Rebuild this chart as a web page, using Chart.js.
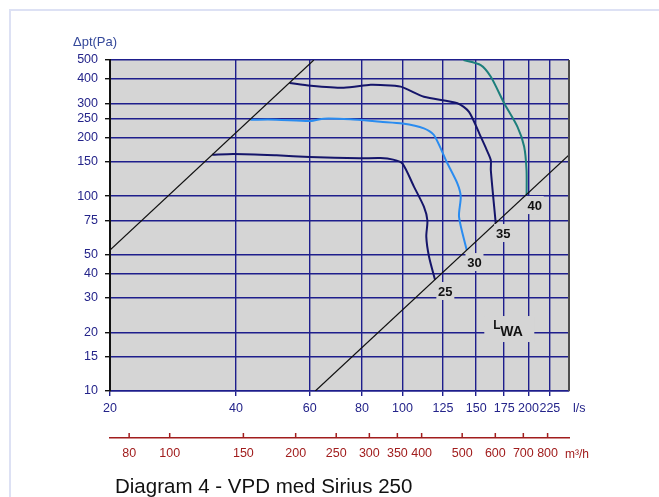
<!DOCTYPE html>
<html>
<head>
<meta charset="utf-8">
<script src="https://cdn.jsdelivr.net/npm/chart.js@4.4.0/dist/chart.umd.min.js"></script>
<style>
html, body { margin: 0; padding: 0; background: #fff; }
#wrap { position: relative; width: 659px; height: 497px; overflow: hidden; }
#frame { position: absolute; left: 9px; top: 9px; right: 0; bottom: 0; border-left: 2px solid #dde1f4; border-top: 2px solid #dde1f4; }
#vpdChart { position: absolute; left: 0; top: 0; }
</style>
</head>
<body>
<div id="wrap">
    <div id="frame"></div>
    <canvas id="vpdChart" width="659" height="497"></canvas>
</div>
<script>
// axis ticks
const flowTicks = [20, 40, 60, 80, 100, 125, 150, 175, 200, 225];
const flowTicksM3h = [80, 100, 150, 200, 250, 300, 350, 400, 500, 600, 700, 800];
const pressureTicks = [10, 15, 20, 30, 40, 50, 75, 100, 150, 200, 250, 300, 400, 500];

// fan curves, flow in l/s and total pressure in Pa
const curve25Flow = [35.1, 39.5, 50, 60, 79, 88.6, 95, 100, 106.5, 112.5, 114.7, 114, 115.7, 119.6];
const curve25Pa = [163, 164.6, 162, 159, 156.5, 157, 154, 147, 112, 88.3, 75, 62, 49, 37.2];

const curve30Flow = [43.3, 50, 60.3, 64.9, 75, 88.6, 100, 112.5, 118.9, 128, 135.3, 137.8, 136.5, 142.4];
const curve30Pa = [247, 247, 243, 250, 248, 241, 236, 223, 206, 147.5, 116, 99.4, 78.4, 52.9];

const curve35Flow = [53.7, 60.3, 72.4, 83.9, 88.6, 99, 112.5, 135.3, 144.2, 153.8, 159, 162.6, 162.6, 167];
const curve35Pa = [381, 369, 360, 373, 372, 365, 324, 300, 271, 202, 172.5, 153, 136, 73];

const curve40Flow = [139.9, 153.8, 162.6, 175, 188.3, 195.3, 197.9, 198];
const curve40Pa = [500, 471, 410, 300, 227, 180, 136, 101.5];

// system lines
const sysLowFlow = [20, 61.4];
const sysLowPa = [52.9, 500];
const sysHighFlow = [61.9, 250];
const sysHighPa = [10, 163];

// sound power labels
const lwaLabels = ['25', '30', '35', '40'];
const lwaLabelFlow = [126.6, 148.6, 174, 207];
const lwaLabelPa = [32.6, 45.9, 64.7, 90];

const fontFamily = '"Liberation Sans", Arial, sans-serif';
const plotBg = '#d5d5d5';
const gridNavy = '#1e1e8c';
const labelNavy = '#24248a';
const axisRed = '#a11d1d';

function toPoints(xs, ys) {
    return xs.map((v, i) => ({ x: v, y: ys[i] }));
}

const decorPlugin = {
    id: 'decor',
    beforeDraw(chart) {
        const { ctx, chartArea: a } = chart;
        ctx.save();
        ctx.fillStyle = plotBg;
        ctx.fillRect(a.left, a.top, a.right - a.left, a.bottom - a.top);
        ctx.restore();
    },
    afterDatasetsDraw(chart) {
        const { ctx, scales } = chart;
        const x = scales.x, y = scales.y;
        ctx.save();
        ctx.font = 'bold 13px ' + fontFamily;
        ctx.textAlign = 'center';
        ctx.textBaseline = 'middle';
        lwaLabels.forEach((t, i) => {
            const px = x.getPixelForValue(lwaLabelFlow[i]);
            const py = y.getPixelForValue(lwaLabelPa[i]);
            ctx.fillStyle = plotBg;
            ctx.fillRect(px - 9, py - 9, 18, 18);
            ctx.fillStyle = '#111';
            ctx.fillText(t, px, py + 1);
        });

        // L_WA box
        const bx = x.getPixelForValue(180), by = y.getPixelForValue(20.8);
        ctx.fillStyle = plotBg;
        ctx.fillRect(bx - 25, by - 13, 50, 26);
        ctx.fillStyle = '#111';
        ctx.textAlign = 'left';
        ctx.font = 'bold 12px ' + fontFamily;
        ctx.fillText('L', bx - 16, by - 3);
        ctx.font = 'bold 14px ' + fontFamily;
        ctx.fillText('WA', bx - 9, by + 3);
        ctx.restore();
    },
    afterDraw(chart) {
        const { ctx, chartArea: a, scales } = chart;
        ctx.save();
        // right edge
        ctx.strokeStyle = '#4d4d4d';
        ctx.lineWidth = 2;
        ctx.beginPath();
        ctx.moveTo(a.right, a.top);
        ctx.lineTo(a.right, a.bottom);
        ctx.stroke();

        // m3/h ticks pointing up
        const x2 = scales.x2;
        ctx.strokeStyle = axisRed;
        ctx.lineWidth = 1.5;
        x2.ticks.forEach(t => {
            const px = x2.getPixelForValue(t.value);
            ctx.beginPath();
            ctx.moveTo(px, x2.top);
            ctx.lineTo(px, x2.top - 5);
            ctx.stroke();
        });

        ctx.textBaseline = 'middle';
        ctx.textAlign = 'left';
        ctx.fillStyle = '#34489a';
        ctx.font = '13px ' + fontFamily;
        ctx.fillText('\u0394pt(Pa)', 73, 42);

        ctx.fillStyle = labelNavy;
        ctx.font = '12.5px ' + fontFamily;
        ctx.fillText('l/s', a.right + 4, a.bottom + 18);

        ctx.fillStyle = axisRed;
        ctx.font = '12px ' + fontFamily;
        ctx.fillText('m\u00b3/h', a.right - 4, x2.top + 17);

        ctx.fillStyle = '#111';
        ctx.font = '20.5px ' + fontFamily;
        ctx.fillText('Diagram 4 - VPD med Sirius 250', 115, 487);
        ctx.restore();
    }
};

function curve(xs, ys, color) {
    return {
        data: toPoints(xs, ys),
        showLine: true,
        borderColor: color,
        borderWidth: 2,
        pointRadius: 0,
        tension: 0.25,
        xAxisID: 'x',
        yAxisID: 'y'
    };
}

function sysLine(xs, ys) {
    return {
        data: toPoints(xs, ys),
        showLine: true,
        borderColor: '#111',
        borderWidth: 1.2,
        pointRadius: 0,
        tension: 0,
        xAxisID: 'x',
        yAxisID: 'y'
    };
}

const ctx = document.getElementById('vpdChart').getContext('2d');
const vpdChart = new Chart(ctx, {
    type: 'scatter',
    data: {
        datasets: [
            sysLine(sysLowFlow, sysLowPa),
            sysLine(sysHighFlow, sysHighPa),
            curve(curve25Flow, curve25Pa, '#15156a'),
            curve(curve30Flow, curve30Pa, '#2a8cf0'),
            curve(curve35Flow, curve35Pa, '#15156a'),
            curve(curve40Flow, curve40Pa, '#1d7f7c')
        ]
    },
    options: {
        responsive: false,
        animation: false,
        layout: { padding: { top: 60, right: 90, bottom: 29, left: 0 } },
        plugins: {
            legend: { display: false },
            tooltip: { enabled: false },
            title: { display: false }
        },
        scales: {
            x: {
                type: 'logarithmic',
                position: 'bottom',
                weight: 0,
                min: 20,
                max: 250,
                afterBuildTicks: s => { s.ticks = flowTicks.map(v => ({ value: v })); },
                afterFit: s => { s.height = 47; },
                grid: { color: gridNavy, lineWidth: 1.4, tickLength: 5, tickColor: gridNavy },
                border: { display: true, color: gridNavy, width: 1.4 },
                ticks: {
                    autoSkip: false,
                    maxRotation: 0,
                    padding: 5,
                    color: labelNavy,
                    font: { family: fontFamily, size: 12.5 },
                    callback: v => String(v)
                }
            },
            x2: {
                type: 'logarithmic',
                position: 'bottom',
                weight: 1,
                min: 72,
                max: 900,
                afterBuildTicks: s => { s.ticks = flowTicksM3h.map(v => ({ value: v })); },
                afterFit: s => { s.height = 30; },
                grid: { drawOnChartArea: false, drawTicks: false },
                border: { display: true, color: axisRed, width: 1.5 },
                ticks: {
                    autoSkip: false,
                    maxRotation: 0,
                    padding: 8,
                    color: axisRed,
                    font: { family: fontFamily, size: 12.5 },
                    callback: v => String(v)
                }
            },
            y: {
                type: 'logarithmic',
                position: 'left',
                min: 10,
                max: 500,
                afterBuildTicks: s => { s.ticks = pressureTicks.map(v => ({ value: v })); },
                afterFit: s => { s.width = 110; },
                grid: { color: gridNavy, lineWidth: 1.4, tickLength: 5, tickColor: '#111' },
                border: { display: true, color: '#111', width: 2 },
                ticks: {
                    autoSkip: false,
                    padding: 7,
                    color: labelNavy,
                    font: { family: fontFamily, size: 12.5 },
                    callback: v => String(v)
                }
            }
        }
    },
    plugins: [decorPlugin]
});
</script>
</body>
</html>
